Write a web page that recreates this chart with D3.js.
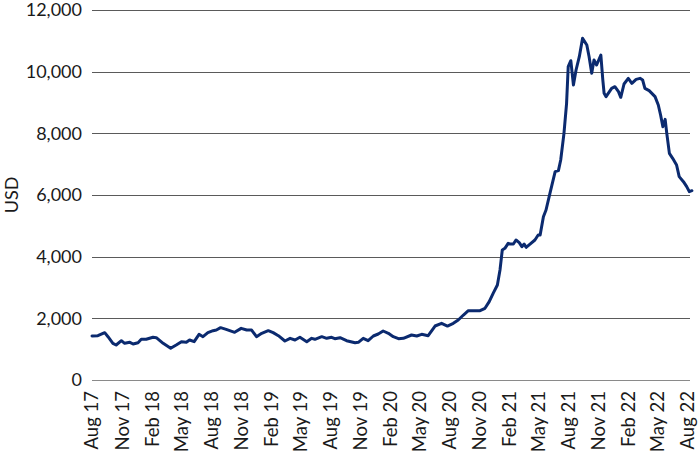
<!DOCTYPE html>
<html>
<head>
<meta charset="utf-8">
<script src="https://cdn.jsdelivr.net/npm/d3@7"></script>
<style>
  html, body { margin: 0; padding: 0; background: #ffffff; }
  svg { display: block; }
</style>
</head>
<body>
<svg id="chart" width="700" height="463"></svg>
<script>
// ---- Data ----
const dates = [
  "2017-08-01","2017-08-19","2017-09-09","2017-09-19","2017-10-04","2017-10-14","2017-10-30","2017-11-09","2017-11-25","2017-12-05",
  "2017-12-20","2017-12-30","2018-01-14","2018-02-04","2018-02-14","2018-03-07","2018-03-30","2018-04-16","2018-05-02","2018-05-17",
  "2018-05-27","2018-06-10","2018-06-25","2018-07-07","2018-07-22","2018-08-07","2018-08-17","2018-08-30","2018-09-16","2018-10-12",
  "2018-11-01","2018-11-18","2018-12-03","2018-12-18","2019-01-03","2019-01-23","2019-02-07","2019-02-23","2019-03-15","2019-03-31",
  "2019-04-15","2019-04-30","2019-05-21","2019-06-05","2019-06-15","2019-07-06","2019-07-21","2019-08-05","2019-08-15","2019-08-31",
  "2019-09-20","2019-10-16","2019-10-26","2019-11-10","2019-11-25","2019-12-11","2019-12-26","2020-01-10","2020-01-26","2020-02-10",
  "2020-02-26","2020-03-12","2020-04-06","2020-04-22","2020-05-07","2020-05-27","2020-06-17","2020-07-07","2020-07-25","2020-08-12",
  "2020-08-27","2020-09-12","2020-09-27","2020-10-12","2020-11-02","2020-11-17","2020-11-30","2020-12-12","2020-12-25","2021-01-02",
  "2021-01-09","2021-01-17","2021-01-27","2021-02-02","2021-02-12","2021-02-20","2021-03-02","2021-03-10","2021-03-17","2021-03-23",
  "2021-04-04","2021-04-19","2021-04-29","2021-05-05","2021-05-15","2021-05-23","2021-06-04","2021-06-20","2021-06-30","2021-07-07",
  "2021-07-17","2021-07-25","2021-07-30","2021-08-07","2021-08-15","2021-08-23","2021-09-02","2021-09-12","2021-09-25","2021-10-02",
  "2021-10-10","2021-10-17","2021-10-25","2021-11-07","2021-11-13","2021-11-17","2021-11-23","2021-12-10","2021-12-20","2021-12-31",
  "2022-01-07","2022-01-17","2022-01-30","2022-02-10","2022-02-23","2022-03-07","2022-03-15","2022-03-22","2022-04-04","2022-04-22",
  "2022-05-02","2022-05-09","2022-05-16","2022-05-23","2022-05-28","2022-06-05","2022-06-15","2022-06-27","2022-07-05","2022-07-18",
  "2022-07-28","2022-08-05","2022-08-13"
];
const values = [
  1427,1437,1535,1405,1190,1135,1275,1190,1222,1167,
  1210,1320,1320,1385,1373,1190,1028,1135,1243,1222,
  1297,1243,1481,1405,1535,1600,1621,1697,1643,1546,
  1675,1621,1621,1405,1513,1600,1535,1437,1265,1352,
  1297,1385,1243,1352,1320,1405,1352,1385,1340,1373,
  1275,1210,1222,1352,1275,1427,1492,1589,1513,1405,
  1340,1352,1459,1427,1481,1437,1751,1838,1751,1838,
  1946,2108,2248,2248,2248,2325,2540,2811,3081,3567,
  4216,4270,4432,4410,4410,4540,4454,4324,4410,4302,
  4410,4540,4702,4702,5297,5513,6054,6757,6789,7135,
  8000,8973,10161,10356,9568,10054,10486,11081,10864,10486,
  9946,10378,10216,10540,9730,9297,9189,9460,9513,9351,
  9168,9600,9784,9622,9751,9784,9730,9460,9384,9189,
  8919,8595,8216,8454,8000,7351,7189,6973,6595,6432,
  6270,6108,6140
];
const yTicks = [0, 2000, 4000, 6000, 8000, 10000, 12000];
const xTickDates = [
  "2017-08-01","2017-11-01","2018-02-01","2018-05-01","2018-08-01","2018-11-01","2019-02-01",
  "2019-05-01","2019-08-01","2019-11-01","2020-02-01","2020-05-01","2020-08-01","2020-11-01",
  "2021-02-01","2021-05-01","2021-08-01","2021-11-01","2022-02-01","2022-05-01","2022-08-01"
];
const xTickLabels = [
  "Aug 17","Nov 17","Feb 18","May 18","Aug 18","Nov 18","Feb 19",
  "May 19","Aug 19","Nov 19","Feb 20","May 20","Aug 20","Nov 20",
  "Feb 21","May 21","Aug 21","Nov 21","Feb 22","May 22","Aug 22"
];
const yTitle = "USD";

// ---- Layout ----
const parse = d3.timeParse("%Y-%m-%d");
const FONT = "Lato, 'Noto Sans', sans-serif";
const mLeft = 92, mRight = 690, mTop = 10, mBottom = 380;

const x = d3.scaleTime()
  .domain([parse("2017-08-01"), parse("2022-08-01")])
  .range([mLeft, 688]);
const y = d3.scaleLinear().domain([0, 12000]).range([mBottom, mTop]);

const svg = d3.select("#chart");

// gridlines
svg.append("g").selectAll("line").data(yTicks).join("line")
  .attr("x1", mLeft).attr("x2", mRight)
  .attr("y1", d => Math.round(y(d)) + 0.5).attr("y2", d => Math.round(y(d)) + 0.5)
  .attr("stroke", d => d === 0 ? "#8a8a8a" : "#5a5a5a")
  .attr("stroke-width", 1);

// y tick labels
svg.append("g").selectAll("text").data(yTicks).join("text")
  .attr("x", mLeft - 10).attr("y", d => y(d))
  .attr("dy", "0.35em")
  .attr("text-anchor", "end")
  .attr("font-family", FONT).attr("font-size", 18).attr("fill", "#1a1a1a")
  .text(d => d3.format(",")(d));

// y title
svg.append("text")
  .attr("transform", `translate(18,${(mTop + mBottom) / 2}) rotate(-90)`)
  .attr("text-anchor", "middle")
  .attr("font-family", FONT).attr("font-size", 18).attr("fill", "#1a1a1a")
  .text(yTitle);

// x tick labels (rotated)
svg.append("g").selectAll("text").data(xTickDates).join("text")
  .attr("transform", d => `translate(${x(parse(d))},${mBottom + 11}) rotate(-90)`)
  .attr("text-anchor", "end")
  .attr("dy", "0.35em")
  .attr("font-family", FONT).attr("font-size", 18.5).attr("fill", "#1a1a1a")
  .text((d, i) => xTickLabels[i]);

// line
const data = dates.map((d, i) => ({ date: parse(d), value: values[i] }));
svg.append("path")
  .datum(data)
  .attr("fill", "none")
  .attr("stroke", "#0b2a6f")
  .attr("stroke-width", 3)
  .attr("stroke-linejoin", "round")
  .attr("stroke-linecap", "round")
  .attr("d", d3.line().x(d => x(d.date)).y(d => y(d.value)));
</script>
</body>
</html>
